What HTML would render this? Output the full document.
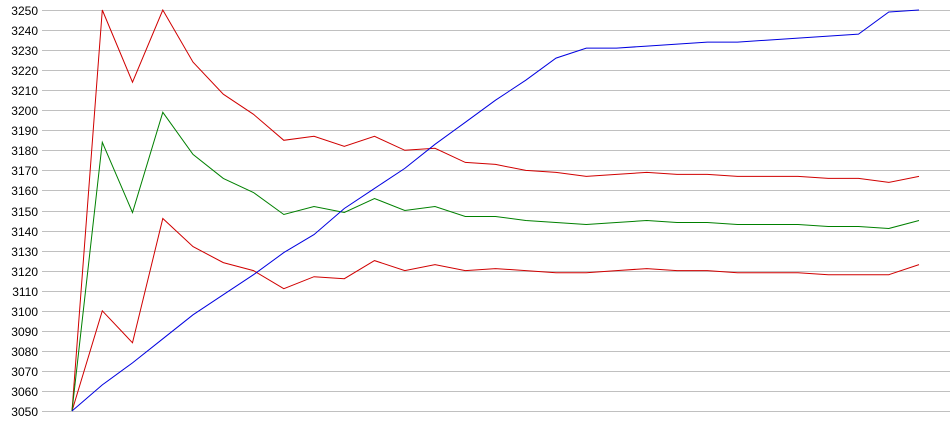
<!DOCTYPE html>
<html><head><meta charset="utf-8"><style>
html,body{margin:0;padding:0;background:#fff;width:950px;height:435px;overflow:hidden}
svg{display:block}
text{font-family:"Liberation Sans",sans-serif;font-size:12px;fill:#000}
</style></head><body>
<svg id="s" width="950" height="435" xmlns="http://www.w3.org/2000/svg"></svg>
<script>
const s=document.getElementById('s');
const Y=v=>10+(3250-v)*2.005;
let h='';
for(let v=3050;v<=3250;v+=10){const y=Math.round(Y(v))+0.5;h+=`<line x1="42" x2="950" y1="${y}" y2="${y}" stroke="#c0c0c0" stroke-width="1"/>`;h+=`<text x="38" y="${y+4.5}" text-anchor="end">${v}</text>`;}
const d={
"#d00000":[[3050,3250,3214,3250,3224,3208,3198,3185,3187,3182,3187,3180,3181,3174,3173,3170,3169,3167,3168,3169,3168,3168,3167,3167,3167,3166,3166,3164,3167],
[3050,3100,3084,3146,3132,3124,3120,3111,3117,3116,3125,3120,3123,3120,3121,3120,3119,3119,3120,3121,3120,3120,3119,3119,3119,3118,3118,3118,3123]],
"#008000":[[3050,3184,3149,3199,3178,3166,3159,3148,3152,3149,3156,3150,3152,3147,3147,3145,3144,3143,3144,3145,3144,3144,3143,3143,3143,3142,3142,3141,3145]],
"#0000e0":[[3050,3063,3074,3086,3098,3108,3118,3129,3138,3151,3161,3171,3183,3194,3205,3215,3226,3231,3231,3232,3233,3234,3234,3235,3236,3237,3238,3249,3250]]};
for(const c in d)for(const a of d[c]){h+=`<polyline fill="none" stroke="${c}" stroke-width="1" points="${a.map((v,i)=>(72+i*30.25).toFixed(1)+','+Y(v).toFixed(1)).join(' ')}"/>`;}
s.innerHTML=h;
</script>
</body></html>
